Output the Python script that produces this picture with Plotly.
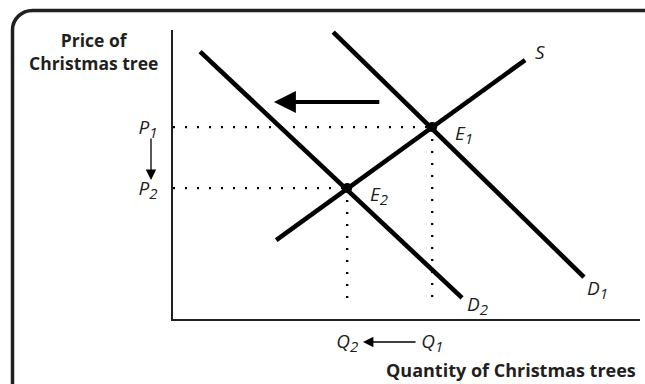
import plotly.graph_objects as go

# ---- data (axis units 0..10) ----
supply_q = [2.21, 7.54]
supply_p = [2.73, 8.96]
d1_q = [3.43, 8.80]
d1_p = [9.93, 1.45]
d2_q = [0.58, 6.19]
d2_p = [9.25, 0.73]
eq_labels = ["E<sub><span style='font-size:15px'>1</span></sub>",
             "E<sub><span style='font-size:15px'>2</span></sub>"]
eq_q = [5.55, 3.73]
eq_p = [6.64, 4.53]
dot_floor = 0.45
price_ticks = ["P<sub><span style='font-size:15px'>1</span></sub>",
               "P<sub><span style='font-size:15px'>2</span></sub>"]
qty_ticks = ["Q<sub><span style='font-size:15px'>1</span></sub>",
             "Q<sub><span style='font-size:15px'>2</span></sub>"]
shift_arrow_q = [4.45, 2.16]   # tail, tip
shift_arrow_p = 7.51

W, H = 645, 384
L, R, T, B = 173, 5, 30, 65
PW, PH = W - L - R, H - T - B

def px(x):
    return (x - L) / PW

def py(y):
    return (H - B - y) / PH

FONT = "Open Sans"
INK = "#231f20"
fig = go.Figure()

# dotted guide lines
for q, p in zip(eq_q, eq_p):
    fig.add_trace(go.Scatter(x=[0, q], y=[p, p], mode="lines",
                             line=dict(color="black", width=2.3, dash="2px,10px"),
                             hoverinfo="skip", showlegend=False))
    fig.add_trace(go.Scatter(x=[q, q], y=[p, dot_floor], mode="lines",
                             line=dict(color="black", width=2.3, dash="2px,10px"),
                             hoverinfo="skip", showlegend=False))

for xs, ys in [(supply_q, supply_p), (d1_q, d1_p), (d2_q, d2_p)]:
    fig.add_trace(go.Scatter(x=xs, y=ys, mode="lines",
                             line=dict(color="black", width=4.6),
                             hoverinfo="skip", showlegend=False))

fig.add_trace(go.Scatter(x=eq_q, y=eq_p, mode="markers",
                         marker=dict(color="black", size=10),
                         hoverinfo="skip", showlegend=False))

ann = []
def lab(x, y, text, size=19, xanchor="center"):
    ann.append(dict(x=x, y=y, xref="x", yref="y", text="<i>" + text + "</i>", showarrow=False,
                    xanchor=xanchor, yanchor="middle",
                    font=dict(family=FONT, size=size, color=INK)))

# curve labels
lab(7.86, 9.24, "S")
lab(d1_q[1] + 0.30, d1_p[1] - 0.40, "D<sub><span style='font-size:15px'>1</span></sub>")
lab(d2_q[1] + 0.34, d2_p[1] - 0.24, "D<sub><span style='font-size:15px'>2</span></sub>")
lab(eq_q[0] + 0.68, eq_p[0] - 0.24, eq_labels[0])
lab(eq_q[1] + 0.68, eq_p[1] - 0.24, eq_labels[1])

# axis titles
ann.append(dict(x=px(93), y=py(51), xref="paper", yref="paper",
                text="<b>Price of<br>Christmas tree</b>", showarrow=False,
                xanchor="center", yanchor="middle", align="center",
                font=dict(family=FONT, size=17.5, color=INK)))
ann.append(dict(x=px(638), y=py(370), xref="paper", yref="paper",
                text="<b>Quantity of Christmas trees</b>", showarrow=False,
                xanchor="right", yanchor="middle",
                font=dict(family=FONT, size=18, color=INK)))

# big shift arrow
ann.append(dict(x=shift_arrow_q[1], y=shift_arrow_p, ax=shift_arrow_q[0], ay=shift_arrow_p,
                xref="x", yref="y", axref="x", ayref="y", text="", showarrow=True,
                arrowhead=2, arrowsize=1.1, arrowwidth=4, arrowcolor="black"))
# price arrow P1 -> P2
ann.append(dict(x=px(151), y=py(180), ax=0, ay=-43,
                xref="paper", yref="paper", axref="pixel", ayref="pixel", text="",
                showarrow=True, arrowhead=2, arrowsize=1.6, arrowwidth=1.3, arrowcolor="black"))
# quantity arrow Q1 -> Q2
ann.append(dict(x=px(363), y=py(342), ax=54, ay=0,
                xref="paper", yref="paper", axref="pixel", ayref="pixel", text="",
                showarrow=True, arrowhead=2, arrowsize=1.6, arrowwidth=1.3, arrowcolor="black"))

# frame (rounded rectangle cut by the image edges)
frame = (f"M {px(12.5)},{py(420)} L {px(12.5)},{py(30)} "
         f"C {px(12.5)},{py(19)} {px(21.5)},{py(10.5)} {px(32.5)},{py(10.5)} "
         f"L {px(700)},{py(10.5)}")

fig.update_layout(
    width=W, height=H,
    margin=dict(l=L, r=R, t=T, b=B),
    paper_bgcolor="white", plot_bgcolor="white",
    annotations=ann,
    shapes=[dict(type="path", path=frame, xref="paper", yref="paper",
                 line=dict(color=INK, width=3.5))],
    xaxis=dict(range=[0, 10], showgrid=False, zeroline=False, showline=True,
               linecolor=INK, linewidth=1.5,
               tickvals=eq_q, ticktext=["<i>" + t + "</i>" for t in qty_ticks],
               ticks="", ticklabelstandoff=4,
               tickfont=dict(family=FONT, size=19, color=INK)),
    yaxis=dict(range=[0, 10], showgrid=False, zeroline=False, showline=True,
               linecolor=INK, linewidth=1.5,
               tickvals=eq_p, ticktext=["<i>" + t + "</i>" for t in price_ticks],
               ticks="", ticklabelstandoff=10,
               tickfont=dict(family=FONT, size=19, color=INK)),
)

fig.write_html("out.html", config={"displayModeBar": False},
               post_script="document.body.style.margin='0';")
